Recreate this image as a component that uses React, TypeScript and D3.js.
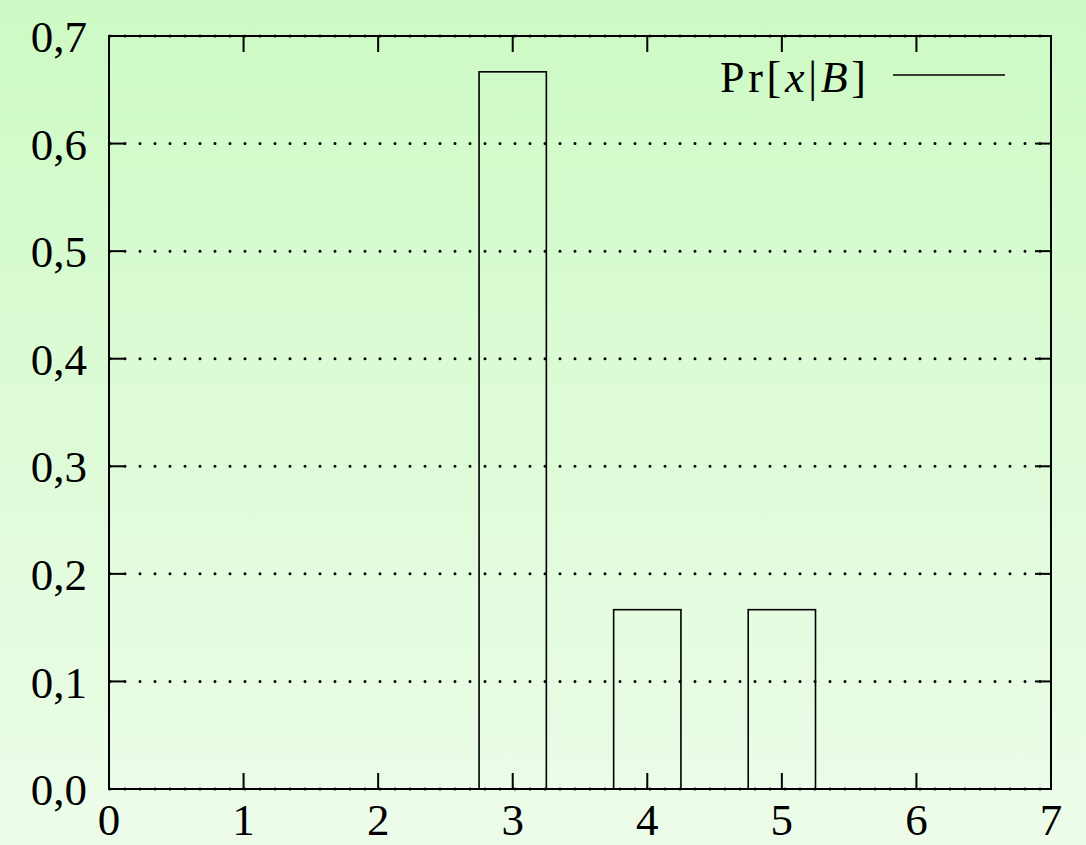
import React from "react";
import * as d3 from "d3";

const xs = [3, 4, 5];
const probs = [0.6667, 0.1667, 0.1667];
const yTicks = [0, 0.1, 0.2, 0.3, 0.4, 0.5, 0.6, 0.7];
const xTicks = [0, 1, 2, 3, 4, 5, 6, 7];

const W = 1086, H = 845;
const M = { left: 109, right: 1051, top: 36, bottom: 789 };

export default function App() {
  const x = d3.scaleLinear().domain([0, 7]).range([M.left, M.right]);
  const y = d3.scaleLinear().domain([0, 0.7]).range([M.bottom, M.top]);
  const font = "'Liberation Serif', 'DejaVu Serif', serif";
  const fmt = (v: number) => v.toFixed(1).replace(".", ",");
  const tick = 16;
  return (
    <svg width={W} height={H} style={{ position: "absolute", left: 0, top: 0 }}>
      <defs>
        <linearGradient id="bg" x1="0" y1="0" x2="0" y2="1">
          <stop offset="0" stopColor="#cdfac4" />
          <stop offset="1" stopColor="#edfcea" />
        </linearGradient>
      </defs>
      <rect x={0} y={0} width={W} height={H} fill="url(#bg)" />
      {xs.map((v, i) => (
        <rect key={"b" + v} x={x(v - 0.25)} y={y(probs[i])} width={x(v + 0.25) - x(v - 0.25)}
          height={y(0) - y(probs[i])} fill="none" stroke="#000" strokeWidth={1.6} />
      ))}
      <rect x={M.left} y={M.top} width={M.right - M.left} height={M.bottom - M.top}
        fill="none" stroke="#000" strokeWidth={2} />
      {yTicks.map((t) => (
        <line key={"g" + t} x1={M.left + 1} x2={M.right} y1={y(t)} y2={y(t)}
          stroke="#000" strokeWidth={3} strokeLinecap="round" strokeDasharray="0 15" />
      ))}
      {yTicks.map((t) => (
        <g key={"yt" + t}>
          <line x1={M.left} x2={M.left + tick} y1={y(t)} y2={y(t)} stroke="#000" strokeWidth={2} />
          <line x1={M.right} x2={M.right - tick} y1={y(t)} y2={y(t)} stroke="#000" strokeWidth={2} />
          <text x={87} y={y(t)} dy="0.36em" textAnchor="end" fontFamily={font} fontSize={45}>{fmt(t)}</text>
        </g>
      ))}
      {xTicks.map((t) => (
        <g key={"xt" + t}>
          <line x1={x(t)} x2={x(t)} y1={M.bottom} y2={M.bottom - tick} stroke="#000" strokeWidth={2} />
          <line x1={x(t)} x2={x(t)} y1={M.top} y2={M.top + tick} stroke="#000" strokeWidth={2} />
          <text x={x(t)} y={835} textAnchor="middle" fontFamily={font} fontSize={45}>{t}</text>
        </g>
      ))}
      <text x={720} y={92} fontFamily={font} fontSize={44} textLength={146} lengthAdjust="spacing">
        Pr[<tspan fontStyle="italic">x</tspan>|<tspan fontStyle="italic">B</tspan>]
      </text>
      <line x1={893} x2={1005} y1={75} y2={75} stroke="#000" strokeWidth={1.6} />
    </svg>
  );
}
